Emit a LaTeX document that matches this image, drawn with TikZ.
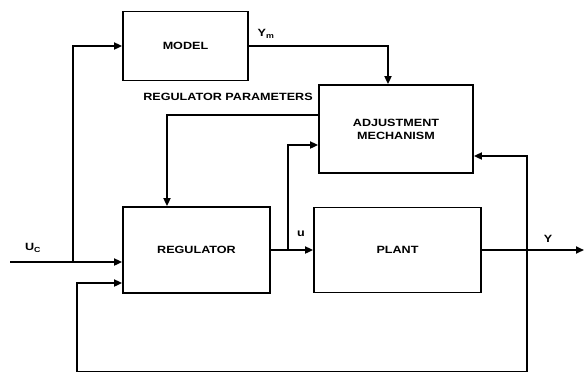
\documentclass[tikz,border=0pt]{standalone}
\usepackage{fontspec}
\setsansfont{Liberation Sans}[FakeStretch=1.2]
\usetikzlibrary{arrows.meta,positioning,calc}
\tikzset{
  >={Triangle[length=8pt,width=7pt]},
  blk/.style={draw,line width=1.8pt,inner sep=2pt,font=\sffamily\bfseries\fontsize{10.5}{13}\selectfont,align=center},
  lab/.style={font=\sffamily\bfseries\fontsize{10.5}{13}\selectfont,align=center},
  arr/.style={->,line width=1.8pt},
}
\begin{document}
\begin{tikzpicture}[x=1pt,y=-1pt]
\useasboundingbox (0,0) rectangle (584,373);
% blocks
\node[blk,minimum width=125pt,minimum height=69pt] (model) at (185.5,46) {MODEL};
\node[blk,minimum width=154pt,minimum height=88pt] (adj) at (396,129) {ADJUSTMENT\\MECHANISM};
\node[blk,minimum width=147pt,minimum height=86pt] (reg) at (196.5,250) {REGULATOR};
\node[blk,minimum width=167pt,minimum height=85pt] (plant) at (397.5,250) {PLANT};
% branch points
\coordinate (uin) at (10,262);
\coordinate (mbr) at (73,262);
\coordinate (ubr) at (288,250);
\coordinate (ybr) at (527,250);
\coordinate (yout) at (584,250);
\coordinate (fbl) at (77,371.5);
% connectors
\draw[arr] (uin) -- ([yshift=-12pt]reg.west);
\draw[arr] (mbr) |- (model.west);
\draw[arr] (model.east) -| ([xshift=-8pt]adj.north);
\draw[arr] ([yshift=14pt]adj.west) -| ([xshift=-29.5pt]reg.north);
\draw[arr] (reg.east) -- (plant.west);
\draw[arr] (ubr) |- ([yshift=-16pt]adj.west);
\draw[arr] (plant.east) -- (yout);
\draw[arr] (ybr) |- ([yshift=-27pt]adj.east);
\draw[arr] (ybr) |- (fbl) |- ([yshift=-33pt]reg.west);
% labels
\node[lab] (ym) at (266,34) {Y\textsubscript{m}};
\node[lab] (rp) at (228,97) {REGULATOR PARAMETERS};
\node[lab] (uc) at (33,248) {U\textsubscript{C}};
\node[lab] (ul) at (301,234) {u};
\node[lab] (yl) at (548,239) {Y};
\end{tikzpicture}
\end{document}
